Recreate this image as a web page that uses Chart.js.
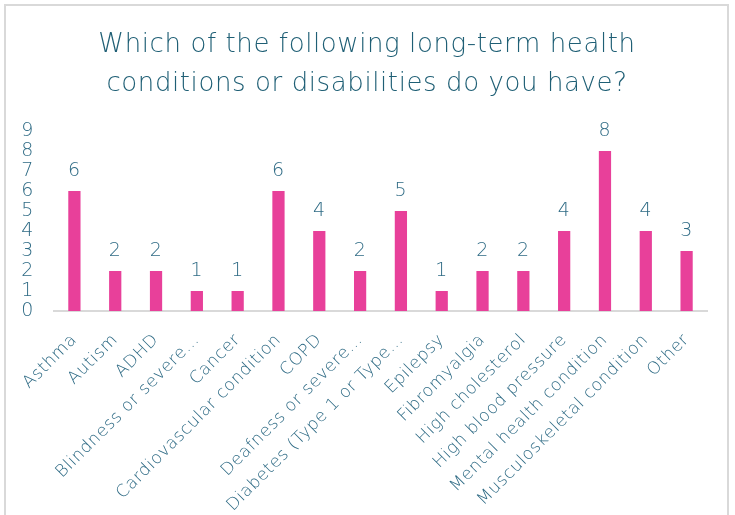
<!DOCTYPE html>
<html>
<head>
<meta charset="utf-8">
<script src="https://cdn.jsdelivr.net/npm/chart.js@4/dist/chart.umd.min.js"></script>
<style>
  html, body { margin: 0; padding: 0; background: #ffffff; }
  #wrap { width: 735px; height: 515px; position: relative; }
</style>
</head>
<body>
<div id="wrap"><canvas id="c" width="735" height="515"></canvas></div>
<script>
const categories = [
  "Asthma", "Autism", "ADHD", "Blindness or severe…", "Cancer",
  "Cardiovascular condition", "COPD", "Deafness or severe…",
  "Diabetes (Type 1 or Type…", "Epilepsy", "Fibromyalgia",
  "High cholesterol", "High blood pressure", "Mental health condition",
  "Musculoskeletal condition", "Other"
];
const counts = [6, 2, 2, 1, 1, 6, 4, 2, 5, 1, 2, 2, 4, 8, 4, 3];
const yTicks = [0, 1, 2, 3, 4, 5, 6, 7, 8, 9];
const titleLines = ["Which of the following long-term health", "conditions or disabilities do you have?"];

const FONT = "'DejaVu Sans', 'Open Sans', sans-serif";
const TEXT = "#2f6b85";
const TITLE = "#1f5f75";
const BAR = "#e8409a";

const framePlugin = {
  id: 'frame',
  beforeDraw(chart) {
    const ctx = chart.ctx;
    ctx.save();
    ctx.fillStyle = '#ffffff';
    ctx.fillRect(0, 0, chart.width, chart.height);
    ctx.strokeStyle = '#d9d9d9';
    ctx.lineWidth = 2;
    ctx.beginPath();
    ctx.moveTo(5, chart.height + 2);
    ctx.lineTo(5, 5);
    ctx.lineTo(728, 5);
    ctx.lineTo(728, chart.height + 2);
    ctx.stroke();
    ctx.restore();
    if ('letterSpacing' in ctx) ctx.letterSpacing = '0.6px';
  },
  afterDraw(chart) {
    const ctx = chart.ctx;
    ctx.save();
    ctx.font = "200 26px " + FONT;
    ctx.fillStyle = TITLE;
    ctx.textAlign = 'center';
    ctx.textBaseline = 'middle';
    ctx.fillText(titleLines[0], 367, 45);
    ctx.fillText(titleLines[1], 367, 84);
    ctx.restore();
    if ('letterSpacing' in ctx) ctx.letterSpacing = '0px';
  }
};

const valueLabels = {
  id: 'valueLabels',
  afterDatasetsDraw(chart) {
    const ctx = chart.ctx;
    const meta = chart.getDatasetMeta(0);
    const data = chart.data.datasets[0].data;
    ctx.save();
    ctx.font = "200 19px " + FONT;
    ctx.fillStyle = TEXT;
    ctx.textAlign = 'center';
    ctx.textBaseline = 'middle';
    meta.data.forEach((el, i) => {
      ctx.fillText(String(data[i]), el.x, el.y - 20);
    });
    ctx.restore();
  }
};

new Chart(document.getElementById('c'), {
  type: 'bar',
  data: {
    labels: categories,
    datasets: [{
      data: counts,
      backgroundColor: BAR,
      borderWidth: 0,
      barPercentage: 0.6,
      categoryPercentage: 0.5
    }]
  },
  options: {
    responsive: false,
    animation: false,
    devicePixelRatio: 1,
    layout: { padding: { left: 10, right: 28, top: 131, bottom: 0 } },
    plugins: {
      legend: { display: false },
      tooltip: { enabled: false },
      title: { display: false }
    },
    scales: {
      y: {
        min: 0,
        max: 9,
        afterBuildTicks(scale) { scale.ticks = yTicks.map(v => ({ value: v })); },
        afterFit(scale) { scale.width = 44; },
        grid: { display: false, drawTicks: false },
        border: { display: false },
        ticks: {
          color: TEXT,
          font: { family: FONT, size: 19, weight: '200' },
          padding: 20,
          autoSkip: false
        }
      },
      x: {
        afterFit(scale) { scale.height = 204; },
        grid: { display: false },
        border: { display: true, color: '#d9d9d9', width: 2 },
        ticks: {
          color: TEXT,
          font: { family: FONT, size: 17, weight: '200' },
          maxRotation: 45,
          minRotation: 45,
          autoSkip: false,
          padding: 11
        }
      }
    }
  },
  plugins: [framePlugin, valueLabels]
});
</script>
</body>
</html>
